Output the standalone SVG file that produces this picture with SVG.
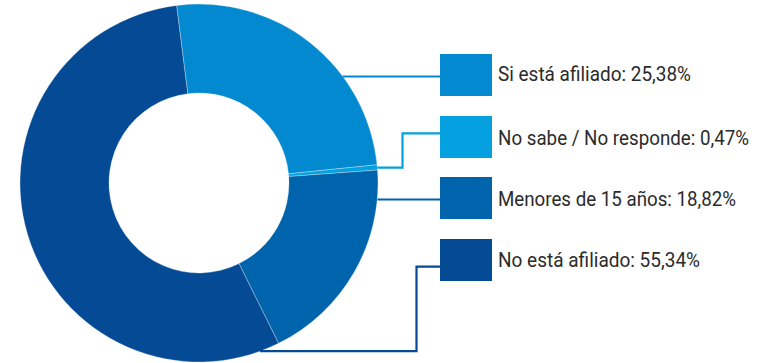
<svg xmlns="http://www.w3.org/2000/svg" width="763" height="363" viewBox="0 0 763 363">
<style>
.slice{stroke:#ffffff;stroke-width:0.6;stroke-opacity:0.5}
.c1{fill:#0389cf}
.c2{fill:#04a0e0}
.c3{fill:#0064ad}
.c4{fill:#054a94}
.ln{fill:none;stroke-width:2.2}
.lbl{font-family:Roboto,"Liberation Sans",sans-serif;font-size:19.7px;fill:#2b2b2b}
</style>
<rect width="763" height="363" fill="#ffffff"/>
<g id="donut">
<path id="slice-si" class="slice c1" d="M176.57,5.41 A179,179 0 0 1 377.07,164.81 L288.53,173.86 A90,90 0 0 0 187.72,93.71 Z"/>
<path id="slice-nosabe" class="slice c2" d="M377.07,164.81 A179,179 0 0 1 377.53,170.08 L288.77,176.50 A90,90 0 0 0 288.53,173.86 Z"/>
<path id="slice-menores" class="slice c3" d="M377.53,170.08 A179,179 0 0 1 278.56,343.35 L239.00,263.62 A90,90 0 0 0 288.77,176.50 Z"/>
<path id="slice-noafiliado" class="slice c4" d="M278.56,343.35 A179,179 0 1 1 176.57,5.41 L187.72,93.71 A90,90 0 1 0 239.00,263.62 Z"/>
</g>
<g id="connectors">
<polyline class="ln" stroke="#0389cf" points="342.5,76.5 440,76.5"/>
<polyline class="ln" stroke="#04a0e0" points="377.3,167.7 402.5,167.7 402.5,133.3 440,133.3"/>
<polyline class="ln" stroke="#0064ad" points="377.5,199.5 440,199.5"/>
<polyline class="ln" stroke="#054a94" points="260,351.2 416.5,351.2 416.5,266.6 440,266.6"/>
</g>
<g id="legend-si">
<rect class="c1" x="440" y="54" width="52" height="42"/>
<text class="lbl" x="498" y="81" textLength="193" lengthAdjust="spacingAndGlyphs">Si está afiliado: 25,38%</text>
</g>
<g id="legend-nosabe">
<rect class="c2" x="440" y="116" width="52" height="42"/>
<text class="lbl" x="498" y="145" textLength="251" lengthAdjust="spacingAndGlyphs">No sabe / No responde: 0,47%</text>
</g>
<g id="legend-menores">
<rect class="c3" x="440" y="177" width="52" height="42"/>
<text class="lbl" x="498" y="206" textLength="238" lengthAdjust="spacingAndGlyphs">Menores de 15 años: 18,82%</text>
</g>
<g id="legend-noafiliado">
<rect class="c4" x="440" y="239" width="52" height="42"/>
<text class="lbl" x="498" y="267" textLength="202" lengthAdjust="spacingAndGlyphs">No está afiliado: 55,34%</text>
</g>
</svg>
